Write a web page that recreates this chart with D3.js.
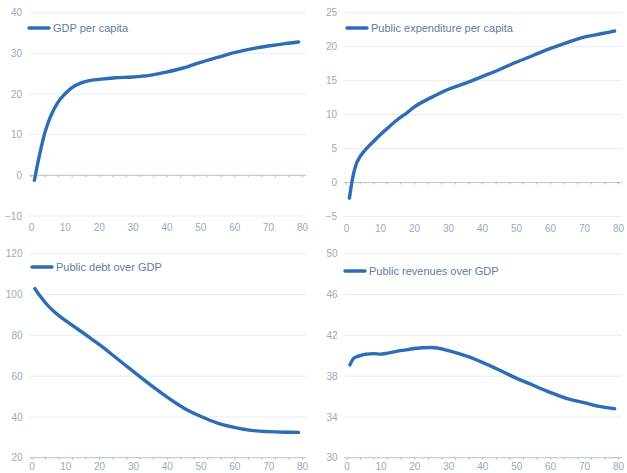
<!DOCTYPE html>
<html>
<head>
<meta charset="utf-8">
<script src="https://cdn.jsdelivr.net/npm/d3@7"></script>
<style>
  body { margin: 0; background: #fff; }
  text { font-family: "Liberation Sans", Arial, sans-serif; }
</style>
</head>
<body>
<script>
// sample periods (x) shared by every series
const periods = [1,2,3,4,5,6,8,10,12,15,18,20,25,30,35,40,45,50,55,60,65,70,75,79];

const gdpPerCapita = [-1.2,3,6.8,10.2,12.8,14.9,18,20,21.5,22.8,23.4,23.6,24,24.2,24.6,25.4,26.4,27.8,29,30.2,31.1,31.8,32.4,32.8];
const expenditurePerCapita = [-2.3,0.8,2.7,3.7,4.4,5.0,6.0,7.0,7.9,9.2,10.3,11.1,12.5,13.7,14.6,15.6,16.6,17.7,18.7,19.7,20.6,21.4,21.9,22.3];
const debtOverGdp = [102.9,100.5,98.3,96.2,94.3,92.7,89.8,87.3,85,81.5,77.9,75.5,69,62.4,55.9,49.8,44.4,40.3,37,34.9,33.4,32.8,32.5,32.4];
const revenuesOverGdp = [39.1,39.7,39.9,40.0,40.1,40.15,40.2,40.15,40.25,40.45,40.6,40.7,40.8,40.5,40.0,39.35,38.6,37.8,37.1,36.4,35.8,35.4,35.0,34.8];

const xTicks = [0,10,20,30,40,50,60,70,80];
const ticksGdp = [-10,0,10,20,30,40];
const ticksExp = [-5,0,5,10,15,20,25];
const ticksDebt = [20,40,60,80,100,120];
const ticksRev = [30,34,38,42,46,50];

const panels = [
  {name: 'GDP per capita', values: gdpPerCapita, yTicks: ticksGdp, x0: 31, x1: 302, yTop: 12.7, yBot: 216, axisAt: 0, lx: 29, ly: 28, lab: 8},
  {name: 'Public expenditure per capita', values: expenditurePerCapita, yTicks: ticksExp, x0: 346, x1: 618, yTop: 12.7, yBot: 216.5, axisAt: 0, lx: 347, ly: 28, lab: 8},
  {name: 'Public debt over GDP', values: debtOverGdp, yTicks: ticksDebt, x0: 31.5, x1: 302, yTop: 253.7, yBot: 457.7, axisAt: 20, lx: 32, ly: 267, lab: 5},
  {name: 'Public revenues over GDP', values: revenuesOverGdp, yTicks: ticksRev, x0: 346.5, x1: 618, yTop: 253.7, yBot: 457.7, axisAt: 30, lx: 345, ly: 271, lab: 5}
];

const W = 627, H = 473;
const lineColor = '#2c6db5';
const labelColor = '#9aa9c0';

const svg = d3.select('body').append('svg')
  .attr('width', W)
  .attr('height', H);

panels.forEach(p => {
  const x = d3.scaleLinear().domain([0, 80]).range([p.x0, p.x1]);
  const y = d3.scaleLinear().domain(d3.extent(p.yTicks)).range([p.yBot, p.yTop]);
  const g = svg.append('g');

  // gridlines
  g.selectAll('line.grid')
    .data(p.yTicks)
    .enter()
    .append('line')
    .attr('class', 'grid')
    .attr('x1', p.x0 - 2)
    .attr('x2', p.x1 + 4)
    .attr('y1', d => y(d))
    .attr('y2', d => y(d))
    .attr('stroke', '#e6edf6')
    .attr('stroke-width', 1);

  // y axis labels
  const yAxis = d3.axisLeft(y).tickValues(p.yTicks).tickSize(0).tickPadding(0);
  g.append('g')
    .attr('transform', `translate(${p.x0 - 9}, 0)`)
    .call(yAxis)
    .call(a => a.select('.domain').remove())
    .call(a => a.selectAll('text').attr('fill', labelColor).attr('font-size', 10));

  // x axis line at zero / bottom with small tick marks
  const xLine = d3.axisBottom(x).tickValues(d3.range(0, 81, 4)).tickSize(2).tickFormat('');
  g.append('g')
    .attr('transform', `translate(0, ${y(p.axisAt)})`)
    .call(xLine)
    .call(a => a.select('.domain').attr('stroke', '#b9c7da').attr('d', `M${p.x0 - 2},0H${p.x1 + 4}`))
    .call(a => a.selectAll('.tick line').attr('stroke', '#a9b8cc'));

  // x labels at the bottom
  const xAxis = d3.axisBottom(x).tickValues(xTicks).tickSize(0).tickPadding(0);
  g.append('g')
    .attr('transform', `translate(0, ${p.yBot + p.lab})`)
    .call(xAxis)
    .call(a => a.select('.domain').remove())
    .call(a => a.selectAll('text').attr('fill', labelColor).attr('font-size', 10));

  // series line
  const line = d3.line()
    .x((d, i) => x(periods[i]))
    .y(d => y(d))
    .curve(d3.curveMonotoneX);
  g.append('path')
    .datum(p.values)
    .attr('d', line)
    .attr('fill', 'none')
    .attr('stroke', lineColor)
    .attr('stroke-width', 3.4)
    .attr('stroke-linecap', 'round');

  // legend
  g.append('line')
    .attr('x1', p.lx).attr('x2', p.lx + 20)
    .attr('y1', p.ly).attr('y2', p.ly)
    .attr('stroke', lineColor)
    .attr('stroke-width', 3.4)
    .attr('stroke-linecap', 'round');
  g.append('text')
    .attr('x', p.lx + 24)
    .attr('y', p.ly + 4)
    .attr('fill', '#5f7aa3')
    .attr('font-size', 11)
    .text(p.name);
});
</script>
</body>
</html>
